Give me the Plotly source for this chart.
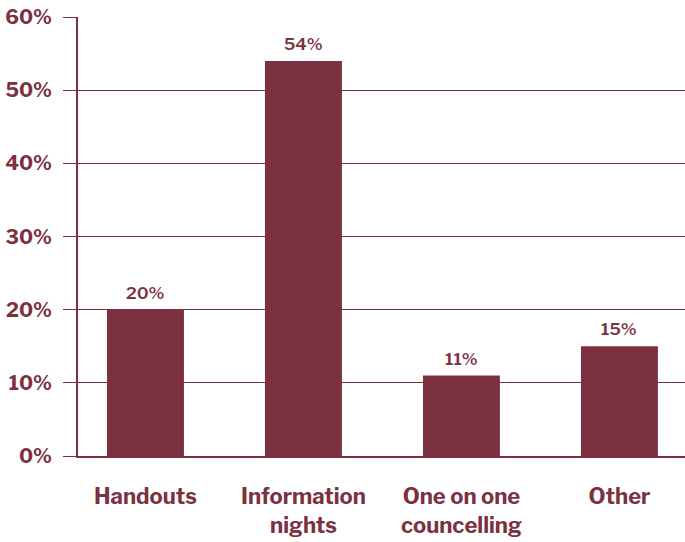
import plotly.graph_objects as go

categories = ["Handouts", "Information<br>nights", "One on one<br>councelling", "Other"]
values = [20, 54, 11, 15]
y_ticks = [0, 10, 20, 30, 40, 50, 60]

maroon = "#7B3140"
font_family = "Libre Franklin, Franklin Gothic Medium, Roboto, Arial"

x_pos = list(range(len(categories)))

fig = go.Figure(go.Bar(
    x=x_pos,
    y=values,
    width=0.487,
    marker=dict(color=maroon, line=dict(width=0)),
    hoverinfo="skip",
))

for xi, v in zip(x_pos, values):
    fig.add_annotation(
        x=xi, y=v, text=f"{v}%", showarrow=False,
        yanchor="bottom", yshift=5,
        font=dict(family=font_family, size=17, color=maroon, weight=600),
    )

fig.update_layout(
    width=685, height=542,
    margin=dict(l=78, r=0, t=17, b=86, autoexpand=False),
    plot_bgcolor="white", paper_bgcolor="white",
    showlegend=False,
    font=dict(family=font_family, color=maroon),
)
fig.update_xaxes(
    range=[-0.427, 3.415],
    tickvals=x_pos,
    ticktext=categories,
    tickfont=dict(family=font_family, size=22, color=maroon, weight="bold"),
    showgrid=False, zeroline=False,
    showline=True, linecolor=maroon, linewidth=2,
    ticks="", ticklabelstandoff=20,
)
fig.update_yaxes(
    range=[0, 60],
    tickvals=y_ticks,
    ticktext=[f"{v}%" for v in y_ticks],
    tickfont=dict(family=font_family, size=20, color=maroon, weight="bold"),
    showgrid=True, gridcolor=maroon, gridwidth=1,
    zeroline=False,
    showline=True, linecolor=maroon, linewidth=2,
    ticks="outside", ticklen=13, tickcolor=maroon, tickwidth=1,
    ticklabelstandoff=7,
)

fig.write_html("out.html", config={"displayModeBar": False},
               post_script="document.body.style.margin='0';document.body.style.overflow='hidden';")
